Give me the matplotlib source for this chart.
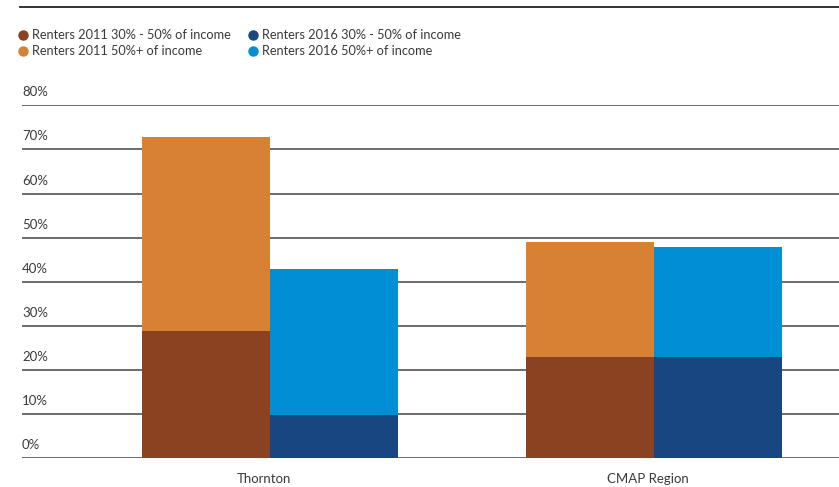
import matplotlib
matplotlib.use("Agg")
import matplotlib.pyplot as plt
import matplotlib.transforms as mtransforms
from matplotlib.lines import Line2D
import numpy as np

plt.rcParams['font.family'] = ['Lato', 'DejaVu Sans']

categories = ["Thornton", "CMAP Region"]
renters_2011_30_50 = [28.9, 23.0]
renters_2011_50_plus = [44.0, 26.0]
renters_2016_30_50 = [9.7, 23.0]
renters_2016_50_plus = [33.2, 24.9]
y_ticks = [0, 10, 20, 30, 40, 50, 60, 70, 80]
y_tick_labels = [f"{v}%" for v in y_ticks]
legend_labels = [
    "Renters 2011 30% - 50% of income",
    "Renters 2011 50%+ of income",
    "Renters 2016 30% - 50% of income",
    "Renters 2016 50%+ of income",
]

c_brown = "#8B4220"
c_orange = "#D68134"
c_navy = "#174680"
c_blue = "#028ED5"
text_color = "#3a3a3a"

W, H = 839, 487
fig = plt.figure(figsize=(W / 100, H / 100), dpi=100)
ax_left, ax_right = 22, 839
ax_bottom_px, ax_top_px = 458.3, 105.3
ax = fig.add_axes([ax_left / W, 1 - ax_bottom_px / H,
                   (ax_right - ax_left) / W, (ax_bottom_px - ax_top_px) / H])

x = np.arange(len(categories))
w = 1 / 3
ax.set_xlim(-0.645, 1.483)
ax.set_ylim(0, 80)

# horizontal rules with labels sitting above each line
for v, lab in zip(y_ticks, y_tick_labels):
    ax.axhline(v, color="#444444", lw=1.1, zorder=1)
    ax.annotate(lab, xy=(0, v), xycoords=ax.get_yaxis_transform(),
                xytext=(0, 6.5), textcoords="offset points",
                ha="left", va="baseline", fontsize=9.5, color=text_color)

ax.bar(x - w / 2, renters_2011_30_50, width=w, color=c_brown, zorder=2)
ax.bar(x - w / 2, renters_2011_50_plus, width=w, bottom=renters_2011_30_50,
       color=c_orange, zorder=2)
ax.bar(x + w / 2, renters_2016_30_50, width=w, color=c_navy, zorder=2)
ax.bar(x + w / 2, renters_2016_50_plus, width=w, bottom=renters_2016_30_50,
       color=c_blue, zorder=2)

ax.set_yticks([])
ax.set_xticks(x)
ax.set_xticklabels(categories, fontsize=9.5, color=text_color)
ax.tick_params(axis="x", length=0, pad=10.5)
shift = mtransforms.ScaledTranslation(-6 / 100, 0, fig.dpi_scale_trans)
for t in ax.get_xticklabels():
    t.set_transform(t.get_transform() + shift)
for s in ax.spines.values():
    s.set_visible(False)

# top rule
fig.add_artist(Line2D([20 / W, 1], [1 - 7 / H, 1 - 7 / H],
                      color="#222222", lw=1.3, transform=fig.transFigure))

handles = [Line2D([], [], marker="o", ls="", color=c, markersize=6.5)
           for c in (c_brown, c_orange, c_navy, c_blue)]
leg = fig.legend(handles, legend_labels, ncol=2, loc="upper left",
                 bbox_to_anchor=(19 / W, 1 - 29 / H), frameon=False,
                 fontsize=9.2, handlelength=0.6, handletextpad=0.45,
                 labelspacing=0.33, columnspacing=1.4, borderpad=0,
                 borderaxespad=0)
for t in leg.get_texts():
    t.set_color(text_color)

fig.savefig("out.png", dpi=100)
